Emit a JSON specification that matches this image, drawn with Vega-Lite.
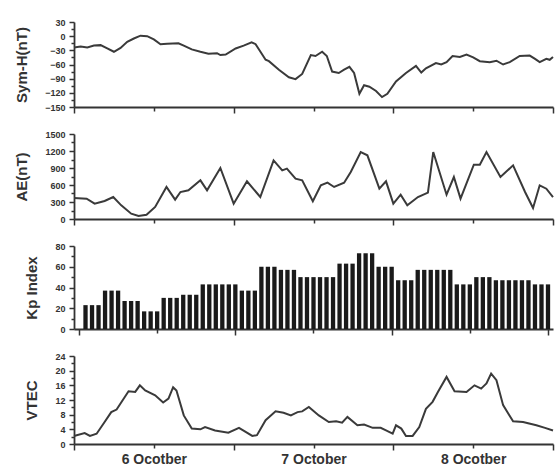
{
  "$schema": "https://vega.github.io/schema/vega-lite/v6.json",
  "padding": {"left": 14, "top": 18, "right": 4, "bottom": 4},
  "background": "white",
  "config": {
    "font": "Liberation Sans",
    "view": {"stroke": null},
    "axis": {"domainColor": "#333", "domainWidth": 1.8, "tickColor": "#333", "tickWidth": 1.5, "labelColor": "#333", "labelFont": "Liberation Sans", "labelFontWeight": "bold", "labelFontSize": 9, "titleFont": "Liberation Sans", "titleFontWeight": "bold", "titleFontSize": 15, "titleColor": "#333", "grid": false}
  },
  "datasets": {
    "symh": [
      {"h":0,"v":-24},{"h":1,"v":-22},{"h":2,"v":-24},{"h":3,"v":-20},{"h":4,"v":-19},{"h":5,"v":-26},{"h":6,"v":-33},{"h":7,"v":-25},{"h":8,"v":-12},{"h":9,"v":-5},{"h":10,"v":1},{"h":11,"v":0},{"h":12,"v":-7},{"h":13,"v":-17},{"h":14,"v":-16},{"h":15.7,"v":-15},{"h":16.5,"v":-20},{"h":17.7,"v":-28},{"h":19,"v":-33},{"h":20.2,"v":-37},{"h":21.5,"v":-36},{"h":22,"v":-40},{"h":22.8,"v":-39},{"h":24.3,"v":-26},{"h":25.5,"v":-20},{"h":26.7,"v":-13},{"h":27.3,"v":-17},{"h":28.8,"v":-50},{"h":29.3,"v":-53},{"h":30.8,"v":-71},{"h":32.3,"v":-87},{"h":33.3,"v":-91},{"h":34.3,"v":-80},{"h":35.6,"v":-40},{"h":36.3,"v":-42},{"h":37.3,"v":-33},{"h":38,"v":-42},{"h":38.8,"v":-75},{"h":39.8,"v":-78},{"h":40.6,"v":-71},{"h":41.4,"v":-65},{"h":42.1,"v":-78},{"h":42.9,"v":-122},{"h":43.6,"v":-104},{"h":44.4,"v":-107},{"h":45.4,"v":-116},{"h":46.3,"v":-129},{"h":47.1,"v":-122},{"h":48.4,"v":-96},{"h":49.9,"v":-78},{"h":51.4,"v":-63},{"h":52.2,"v":-77},{"h":52.9,"v":-68},{"h":54.4,"v":-57},{"h":55.2,"v":-60},{"h":56,"v":-55},{"h":56.9,"v":-42},{"h":58,"v":-44},{"h":59,"v":-39},{"h":60,"v":-45},{"h":61,"v":-53},{"h":62.5,"v":-55},{"h":63.5,"v":-52},{"h":64.5,"v":-60},{"h":65.5,"v":-55},{"h":67,"v":-42},{"h":68.5,"v":-41},{"h":69.3,"v":-48},{"h":70,"v":-55},{"h":71,"v":-48},{"h":71.5,"v":-50},{"h":72,"v":-44}
    ],
    "ae": [
      {"h":0,"v":371},{"h":1.9,"v":359},{"h":3.1,"v":271},{"h":4.6,"v":318},{"h":5.9,"v":388},{"h":7.1,"v":241},{"h":8.6,"v":94},{"h":9.7,"v":53},{"h":10.9,"v":76},{"h":12.2,"v":212},{"h":13.9,"v":565},{"h":15.2,"v":341},{"h":16,"v":476},{"h":17.2,"v":506},{"h":19,"v":682},{"h":20,"v":506},{"h":22,"v":900},{"h":24,"v":271},{"h":26,"v":665},{"h":28,"v":388},{"h":30,"v":1035},{"h":31.3,"v":859},{"h":32,"v":888},{"h":33.3,"v":712},{"h":34.3,"v":682},{"h":35.9,"v":312},{"h":37.1,"v":594},{"h":38.1,"v":641},{"h":39.1,"v":565},{"h":40.6,"v":641},{"h":41.6,"v":829},{"h":43.1,"v":1182},{"h":44.1,"v":1124},{"h":45.9,"v":535},{"h":46.9,"v":665},{"h":48,"v":271},{"h":49.1,"v":429},{"h":50.1,"v":241},{"h":51.7,"v":388},{"h":53.2,"v":465},{"h":54,"v":1182},{"h":56,"v":429},{"h":57.1,"v":741},{"h":58.1,"v":359},{"h":60.1,"v":959},{"h":61,"v":959},{"h":62,"v":1182},{"h":64.1,"v":741},{"h":66,"v":947},{"h":67.8,"v":476},{"h":69,"v":194},{"h":70,"v":594},{"h":71,"v":535},{"h":72,"v":388}
    ],
    "kp": [
      {"h":1,"v":23},{"h":2,"v":23},{"h":3,"v":23},{"h":4,"v":37},{"h":5,"v":37},{"h":6,"v":37},{"h":7,"v":27},{"h":8,"v":27},{"h":9,"v":27},{"h":10,"v":17},{"h":11,"v":17},{"h":12,"v":17},{"h":13,"v":30},{"h":14,"v":30},{"h":15,"v":30},{"h":16,"v":33},{"h":17,"v":33},{"h":18,"v":33},{"h":19,"v":43},{"h":20,"v":43},{"h":21,"v":43},{"h":22,"v":43},{"h":23,"v":43},{"h":24,"v":43},{"h":25,"v":37},{"h":26,"v":37},{"h":27,"v":37},{"h":28,"v":60},{"h":29,"v":60},{"h":30,"v":60},{"h":31,"v":57},{"h":32,"v":57},{"h":33,"v":57},{"h":34,"v":50},{"h":35,"v":50},{"h":36,"v":50},{"h":37,"v":50},{"h":38,"v":50},{"h":39,"v":50},{"h":40,"v":63},{"h":41,"v":63},{"h":42,"v":63},{"h":43,"v":73},{"h":44,"v":73},{"h":45,"v":73},{"h":46,"v":60},{"h":47,"v":60},{"h":48,"v":60},{"h":49,"v":47},{"h":50,"v":47},{"h":51,"v":47},{"h":52,"v":57},{"h":53,"v":57},{"h":54,"v":57},{"h":55,"v":57},{"h":56,"v":57},{"h":57,"v":57},{"h":58,"v":43},{"h":59,"v":43},{"h":60,"v":43},{"h":61,"v":50},{"h":62,"v":50},{"h":63,"v":50},{"h":64,"v":47},{"h":65,"v":47},{"h":66,"v":47},{"h":67,"v":47},{"h":68,"v":47},{"h":69,"v":47},{"h":70,"v":43},{"h":71,"v":43},{"h":72,"v":43}
    ],
    "vtec": [
      {"h":0,"v":2.2},{"h":1.6,"v":3.0},{"h":2.4,"v":2.2},{"h":3.4,"v":2.8},{"h":4.6,"v":6.0},{"h":5.6,"v":8.7},{"h":6.4,"v":9.4},{"h":8.2,"v":14.4},{"h":9.2,"v":14.2},{"h":9.9,"v":16.0},{"h":10.7,"v":14.6},{"h":12.2,"v":13.3},{"h":13.4,"v":11.3},{"h":14.2,"v":12.4},{"h":14.9,"v":15.5},{"h":15.4,"v":14.6},{"h":16.5,"v":7.8},{"h":17.7,"v":4.2},{"h":19,"v":4.0},{"h":19.7,"v":4.6},{"h":21.2,"v":3.7},{"h":23.2,"v":3.1},{"h":24.8,"v":4.4},{"h":25.8,"v":3.3},{"h":26.8,"v":2.2},{"h":27.5,"v":2.4},{"h":28.8,"v":6.5},{"h":30.3,"v":8.9},{"h":31.5,"v":8.5},{"h":32.6,"v":7.8},{"h":33.6,"v":8.7},{"h":34.3,"v":8.9},{"h":35.3,"v":10.1},{"h":36.8,"v":7.8},{"h":38.3,"v":6.0},{"h":39.4,"v":6.2},{"h":40.3,"v":5.8},{"h":41.1,"v":7.4},{"h":42.6,"v":5.1},{"h":43.6,"v":5.3},{"h":44.9,"v":4.4},{"h":46.1,"v":4.4},{"h":46.9,"v":3.7},{"h":47.9,"v":2.8},{"h":48.4,"v":5.1},{"h":49.2,"v":4.2},{"h":49.9,"v":2.2},{"h":50.9,"v":2.2},{"h":51.9,"v":4.6},{"h":52.9,"v":9.6},{"h":53.9,"v":11.5},{"h":54.7,"v":14.2},{"h":56,"v":18.3},{"h":57.2,"v":14.4},{"h":59,"v":14.2},{"h":60.2,"v":16.0},{"h":61.2,"v":15.1},{"h":62,"v":16.5},{"h":62.7,"v":19.2},{"h":63.5,"v":17.4},{"h":64.5,"v":10.6},{"h":66,"v":6.2},{"h":67.5,"v":6.0},{"h":69.5,"v":5.1},{"h":70.8,"v":4.4},{"h":72,"v":3.7}
    ]
  },
  "vconcat": [
    {
      "width": 479, "height": 85,
      "data": {"name": "symh"},
      "mark": {"type": "line", "color": "#3a3a3a", "strokeWidth": 2},
      "encoding": {
        "x": {"field": "h", "type": "quantitative", "scale": {"domain": [0, 72], "nice": false},
          "axis": {"title": null, "values": [0,12,24,36,48,60,72], "labels": false, "tickSize": {"condition": {"test": "datum.value % 24 === 0", "value": 6}, "value": 4}}},
        "y": {"field": "v", "type": "quantitative", "scale": {"domain": [-150, 30], "nice": false},
          "axis": {"title": "Sym-H(nT)", "titlePadding": 15, "labelPadding": 4, "values": [-150,-135,-120,-105,-90,-75,-60,-45,-30,-15,0,15,30], "labelExpr": "datum.value % 30 === 0 ? datum.label : ''", "tickSize": {"condition": {"test": "datum.value % 30 === 0", "value": 5}, "value": 3}}}
      }
    },
    {
      "width": 479, "height": 85,
      "data": {"name": "ae"},
      "mark": {"type": "line", "color": "#3a3a3a", "strokeWidth": 2},
      "encoding": {
        "x": {"field": "h", "type": "quantitative", "scale": {"domain": [0, 72], "nice": false},
          "axis": {"title": null, "values": [0,12,24,36,48,60,72], "labels": false, "tickSize": {"condition": {"test": "datum.value % 24 === 0", "value": 6}, "value": 4}}},
        "y": {"field": "v", "type": "quantitative", "scale": {"domain": [0, 1500], "nice": false},
          "axis": {"title": "AE(nT)", "titlePadding": 15, "labelPadding": 4, "values": [0,150,300,450,600,750,900,1050,1200,1350,1500], "labelExpr": "datum.value % 300 === 0 ? datum.label : ''", "format": "d", "tickSize": {"condition": {"test": "datum.value % 300 === 0", "value": 5}, "value": 3}}}
      }
    },
    {
      "width": 479, "height": 83,
      "data": {"name": "kp"},
      "mark": {"type": "bar", "color": "#1a1a1a", "size": 4.3},
      "encoding": {
        "x": {"field": "h", "type": "quantitative", "scale": {"domain": [0, 72], "nice": false},
          "axis": {"title": null, "values": [0,12,24,36,48,60,72], "labels": false, "tickSize": {"condition": {"test": "datum.value % 24 === 0", "value": 6}, "value": 4}}},
        "y": {"field": "v", "type": "quantitative", "scale": {"domain": [0, 80], "nice": false},
          "axis": {"title": "Kp Index", "titlePadding": 15, "labelPadding": 4, "values": [0,10,20,30,40,50,60,70,80], "labelExpr": "datum.value % 20 === 0 ? datum.label : ''", "tickSize": {"condition": {"test": "datum.value % 20 === 0", "value": 5}, "value": 3}}}
      }
    },
    {
      "width": 479, "height": 88,
      "data": {"name": "vtec"},
      "mark": {"type": "line", "color": "#3a3a3a", "strokeWidth": 2},
      "encoding": {
        "x": {"field": "h", "type": "quantitative", "scale": {"domain": [0, 72], "nice": false},
          "axis": {"title": null, "values": [0,12,24,36,48,60,72], "labelExpr": "datum.value == 12 ? '6 Ocotber' : datum.value == 36 ? '7 October' : datum.value == 60 ? '8 Ocotber' : ''", "labelFontSize": 14, "labelPadding": 4, "tickSize": {"condition": {"test": "datum.value % 24 === 0", "value": 6}, "value": 4}}},
        "y": {"field": "v", "type": "quantitative", "scale": {"domain": [0, 24], "nice": false},
          "axis": {"title": "VTEC", "titlePadding": 15, "labelPadding": 4, "values": [0,2,4,6,8,10,12,14,16,18,20,22,24], "labelExpr": "datum.value % 4 === 0 ? datum.label : ''", "tickSize": {"condition": {"test": "datum.value % 4 === 0", "value": 5}, "value": 3}}}
      }
    }
  ],
  "spacing": 27,
  "bounds": "flush"
}
